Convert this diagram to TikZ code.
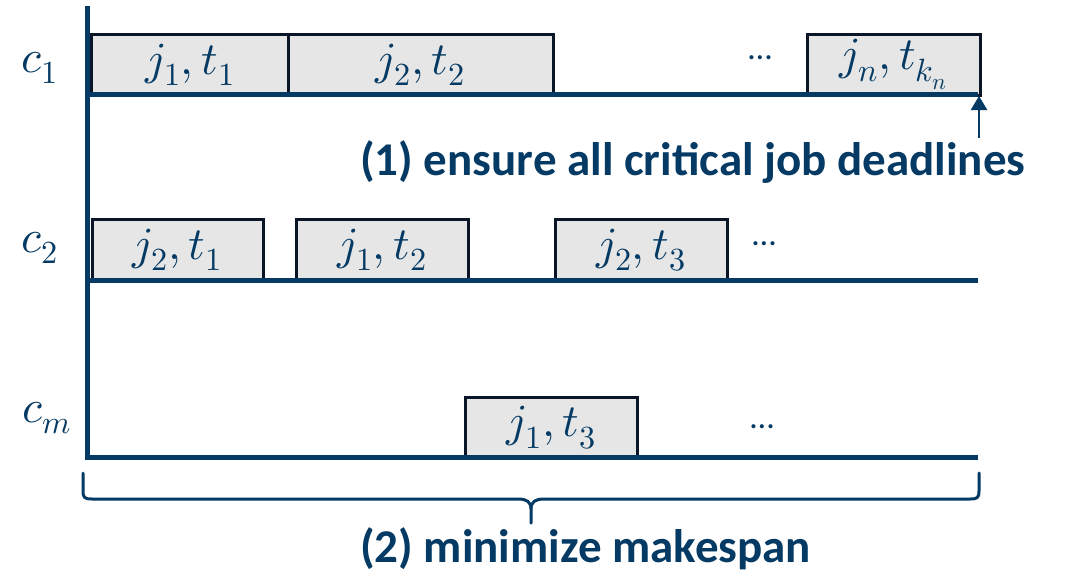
\documentclass[tikz,border=0pt]{standalone}
\usepackage{fontspec}
\usepackage{unicode-math}
\setmainfont{Carlito}
\setmathfont{Latin Modern Math}
\usetikzlibrary{arrows.meta}
\definecolor{navy}{RGB}{4,58,99}
\definecolor{jobedge}{RGB}{10,22,40}
\definecolor{jobfill}{RGB}{230,230,230}
\begin{document}
\begin{tikzpicture}[x=1pt,y=-1pt,
  timeline/.style={draw=navy,line width=5pt},
  jobbox/.style={draw=jobedge,fill=jobfill,line width=3pt,inner sep=0pt,
    minimum height=61pt,text=navy,font=\fontsize{46}{50}\selectfont},
  machine/.style={text=navy,font=\fontsize{46}{50}\selectfont,inner sep=0pt,anchor=base},
  more/.style={text=navy,font=\fontsize{34}{40}\selectfont,inner sep=0pt},
  goal/.style={text=navy,font=\fontsize{47}{52}\selectfont\bfseries,inner sep=0pt,anchor=base west},
  bracket/.style={draw=navy,line width=3pt,line cap=round,line join=round}]
\useasboundingbox (0,0) rectangle (1071,579);

% machine labels
\node[machine] (c1) at (40,72) {$c_1$};
\node[machine] (c2) at (40,252) {$c_2$};
\node[machine] (cm) at (47,422) {$c_m$};

% jobs on machine c1
\node[jobbox,minimum width=198pt] (a1) at (190,64.5) {$j_1,t_1$};
\node[jobbox,minimum width=265pt] (a2) at (420.5,64.5) {$j_2,t_2$};
\node[jobbox,minimum width=173pt] (a3) at (893.5,64.5) {$j_n,t_{k_n}$};
\node[more] (d1) at (760,58) {…};

% jobs on machine c2
\node[jobbox,minimum width=171pt] (b1) at (177.5,250) {$j_2,t_1$};
\node[jobbox,minimum width=172pt] (b2) at (382,250) {$j_1,t_2$};
\node[jobbox,minimum width=172pt] (b3) at (641,250) {$j_2,t_3$};
\node[more] (d2) at (764,244) {…};

% jobs on machine c_m
\node[jobbox,minimum width=172pt] (m1) at (551.5,427.5) {$j_1,t_3$};
\node[more] (d3) at (762,427) {…};

% axis and time lines
\coordinate (top) at (87,6);
\coordinate (o1) at (87,94.5);
\coordinate (e1) at (978,94.5);
\coordinate (o2) at (87,280.5);
\coordinate (e2) at (978,280.5);
\coordinate (em) at (978,457.5);
\draw[timeline] (o1) -- (e1);
\draw[timeline] (o2) -- (e2);
\draw[timeline,line join=miter] (top) |- (em);

% deadline marker
\coordinate (dl) at (979,96);
\coordinate (dlfoot) at (979,138);
\draw[navy,line width=2.5pt,-{Triangle[width=16pt,length=14pt]}] (dlfoot) -- (dl);
\node[goal] (g1) at (360,175) {(1) ensure all critical job deadlines};

% makespan brace
\coordinate (bl) at (83,473);
\coordinate (br) at (979,473);
\coordinate (tip) at (531,523);
\draw[bracket] (bl) -- (83,491) .. controls (83,498) and (85,499) .. (92,499)
  -- (518,499) .. controls (527,499) and (531,502) .. (531,509) -- (tip);
\draw[bracket] (br) -- (979,491) .. controls (979,498) and (977,499) .. (970,499)
  -- (544,499) .. controls (535,499) and (531,502) .. (531,509);
\node[goal] (g2) at (360,562) {(2) minimize makespan};
\end{tikzpicture}
\end{document}
